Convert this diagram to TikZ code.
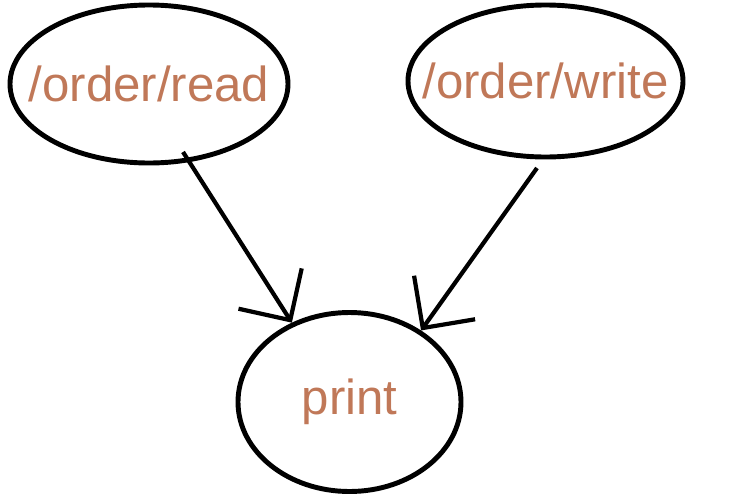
\documentclass[tikz,border=0pt]{standalone}
\usepackage{fontspec}
\setmainfont{Liberation Sans}
\usetikzlibrary{calc, positioning, arrows.meta, shapes.geometric}

\begin{document}
\begin{tikzpicture}
                      [text centered,
                       route/.style={ellipse, draw, line width=2.8pt, inner sep=0pt},
                       txt/.style={text=urlbrown, font=\fontsize{28}{34}\selectfont},
                       link/.style={-{Straight Barb[length=0.75cm, width=1.5cm]}, line width=2.4pt}]
                      \definecolor{urlbrown}{RGB}{192,120,88}
                      \useasboundingbox (0,0) rectangle (14.72,10.06);
                      % nodes %
                      \node[route, minimum width=5.56cm, minimum height=3.16cm,
                            label={[txt]center:/order/read}] (read) at (2.98,8.38) {};
                      \node[route, minimum width=5.50cm, minimum height=3.04cm,
                            label={[txt]center:/order/write}] (write) at (10.91,8.44) {};
                      \node[route, minimum width=4.46cm, minimum height=3.58cm,
                            label={[txt]center:print}] (print) at (6.99,2.02) {};
                      \coordinate (rs) at (3.66,7.02);
                      \coordinate (ws) at (10.74,6.70);

                      % edges %
                      \draw[link] (rs) -- (print.126);
                      \draw[link] (ws) -- (print.45);
                    \end{tikzpicture}
\end{document}
